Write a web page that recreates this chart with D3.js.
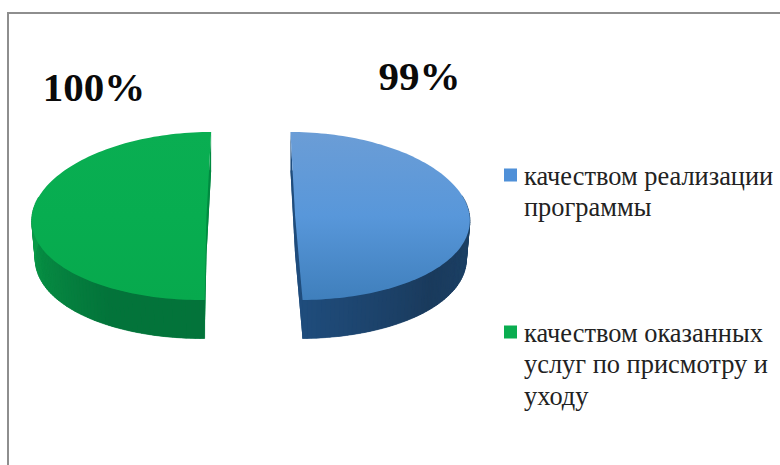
<!DOCTYPE html>
<html><head><meta charset="utf-8">
<script src="https://cdn.jsdelivr.net/npm/d3@7"></script>
<style>html,body{margin:0;padding:0;background:#fff}svg{display:block}</style>
</head><body>
<svg id="c" width="780" height="465"></svg>
<script>
const categories = ["качеством реализации программы", "качеством оказанных услуг по присмотру и уходу"];
const values = [99, 100];
const valueLabels = ["99%", "100%"];
const legendLines = [["качеством реализации", "программы"], ["качеством оказанных", "услуг по присмотру и", "уходу"]];
const topColors = [["#6b9dd6", "#5897da", "#3f7fbc"], ["#0aae52", "#07ad50", "#07a94d"]];
const wallColors = [["#1f4c7c", "#1a3a5c", "#1d4368"], ["#008a40", "#03733a", "#0a9a48"]];
const swatchColors = ["#4f90d8", "#0aad50"];

const svg = d3.select("#c");
const W = 780, H = 465;

// frame
svg.append("path").attr("d", `M8,${H} V13 H${W}`).attr("fill", "none").attr("stroke", "#8e8e8e").attr("stroke-width", 2);

// pseudo 3D projection
const vx = 250.8, explode = 44.3, persp = 0.105, perspRim = 0.028, Rx = 174.5, Ry = 84, cy = 216, depth = 38.5, wallShrink = 0.98;
const yScale = d3.scaleLinear().domain([-1, 1]).range([cy - Ry, cy + Ry]);
function project(a, r, side, low) {
  const rim = Rx * r * Math.sin(a) * (low ? wallShrink : 1);
  const v = -r * Math.cos(a);
  return [vx + side * explode * (1 + persp * v) + rim * (1 + perspRim * v), yScale(v) + (low ? depth : 0)];
}
const pie = d3.pie().sort(null).value(d => d);
const arcs = pie(values);
const defs = svg.append("defs");
const line = d3.line();

arcs.forEach((d, i) => {
  const side = i === 0 ? 1 : -1;
  const g = svg.append("g");
  const angles = d3.range(0, 121).map(k => d.startAngle + (d.endAngle - d.startAngle) * k / 120);
  const outline = low => [project(0, 0, side, low)].concat(angles.map(a => project(a, 1, side, low)));

  // lower plane and cut faces
  g.append("path").attr("d", line(outline(true)) + "Z").attr("fill", wallColors[i][0]);
  [d.startAngle, d.endAngle].forEach(a => {
    const p = [project(a, 1, side, false), project(0, 0, side, false), project(0, 0, side, true), project(a, 1, side, true)];
    g.append("path").attr("d", line(p) + "Z").attr("fill", wallColors[i][0]);
  });

  // outer wall with shading along the rim
  const visible = angles.filter(a => Math.cos(a) < 0.25);
  const wallDomain = i === 0 ? [Math.PI / 2, 2.3, d.endAngle] : [d.startAngle, 3.7, 3 * Math.PI / 2];
  const wc = d3.scaleLinear().domain(wallDomain)
    .range(i === 0 ? [wallColors[i][2], wallColors[i][1], wallColors[i][0]] : [wallColors[i][1], wallColors[i][1], wallColors[i][2]]).clamp(true);
  d3.pairs(visible).forEach(([a, b]) => {
    const p = [project(a, 1, side, false), project(b, 1, side, false), project(b, 1, side, true), project(a, 1, side, true)];
    g.append("path").attr("d", line(p) + "Z").attr("fill", wc((a + b) / 2)).attr("stroke", wc((a + b) / 2)).attr("stroke-width", 0.6);
  });

  // top face
  const gid = "top" + i;
  const lg = defs.append("linearGradient").attr("id", gid).attr("x1", 0).attr("x2", 0).attr("y1", 0).attr("y2", 1);
  topColors[i].forEach((c, k) => lg.append("stop").attr("offset", k / 2).attr("stop-color", c));
  g.append("path").attr("d", line(outline(false)) + "Z").attr("fill", `url(#${gid})`);
});

// value labels
const labelPos = [[419.5, 90], [94, 101]];
valueLabels.forEach((t, i) => {
  svg.append("text").attr("x", labelPos[i][0]).attr("y", labelPos[i][1]).attr("text-anchor", "middle")
    .attr("font-family", "Liberation Serif").attr("font-weight", "bold").attr("font-size", 41).attr("fill", "#0a0a0a").text(t);
});

// legend
const legendTop = [185, 342];
categories.forEach((c, i) => {
  svg.append("rect").attr("x", 504).attr("y", legendTop[i] - 16.5).attr("width", 13).attr("height", 13).attr("fill", swatchColors[i]);
  legendLines[i].forEach((t, k) => {
    svg.append("text").attr("x", 524).attr("y", legendTop[i] + k * 31.3)
      .attr("font-family", "Liberation Serif").attr("font-size", 26.4).attr("fill", "#222").text(t);
  });
});
</script>
</body></html>
